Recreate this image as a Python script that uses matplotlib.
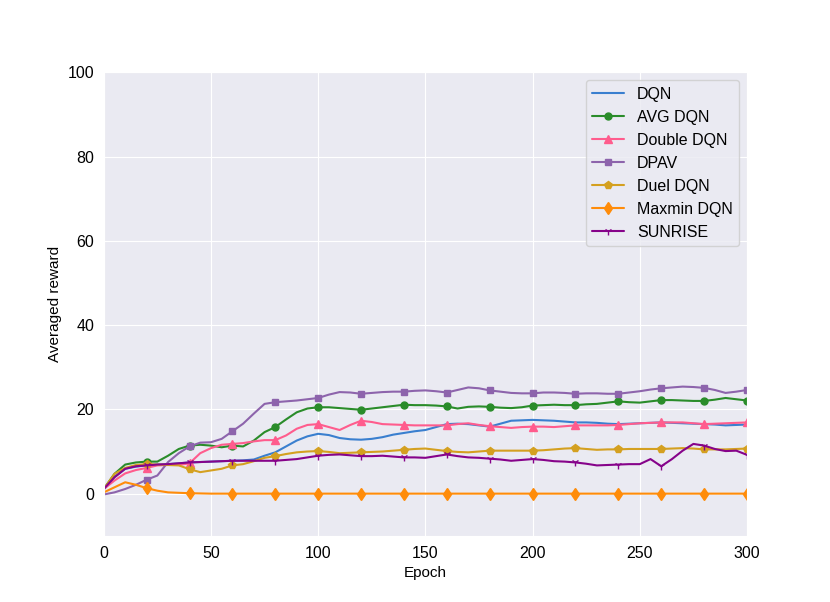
import numpy as np
import matplotlib
matplotlib.use("Agg")
import matplotlib.pyplot as plt
import seaborn as sns

sns.set_style("darkgrid")
plt.rcParams['font.family'] = ['Liberation Sans', 'DejaVu Sans']
plt.rcParams['text.color'] = 'black'
plt.rcParams['axes.labelcolor'] = 'black'
plt.rcParams['xtick.color'] = 'black'
plt.rcParams['ytick.color'] = 'black'

# epochs (every 5) and averaged rewards
epochs = np.arange(0, 301, 5)

dqn = [1.0, 3.9, 5.9, 6.4, 6.7, 6.9, 7.0, 7.2, 7.4, 7.5, 7.6, 7.7, 7.8, 7.9, 8.1, 9.0,
       9.8, 11.2, 12.6, 13.6, 14.2, 13.9, 13.2, 12.9, 12.8, 13.0, 13.4, 14.0, 14.4, 14.8,
       15.1, 15.8, 16.5, 16.6, 16.5, 16.2, 15.9, 16.6, 17.3, 17.4, 17.5, 17.4, 17.3, 17.1,
       16.9, 16.9, 16.8, 16.6, 16.5, 16.6, 16.7, 16.8, 16.9, 16.8, 16.7, 16.6, 16.5, 16.4,
       16.2, 16.3, 16.4]
avg_dqn = [1.1, 4.7, 6.9, 7.4, 7.6, 7.6, 9.0, 10.6, 11.4, 11.6, 11.4, 11.0, 11.4, 11.2, 12.6,
           14.6, 15.8, 17.6, 19.3, 20.2, 20.5, 20.5, 20.3, 20.1, 19.9, 20.2, 20.5, 20.8, 21.1,
           21.0, 21.0, 20.9, 20.7, 20.2, 20.6, 20.7, 20.6, 20.4, 20.3, 20.5, 20.9, 21.0, 21.1,
           21.0, 21.0, 21.2, 21.3, 21.6, 21.9, 21.7, 21.6, 21.9, 22.2, 22.2, 22.1, 22.0, 22.0,
           22.3, 22.7, 22.4, 22.1]
double_dqn = [1.1, 3.1, 4.8, 5.6, 6.1, 6.7, 6.8, 6.8, 7.2, 9.6, 10.8, 11.6, 11.8, 12.0, 12.4,
              12.7, 12.7, 13.8, 15.4, 16.3, 16.5, 15.8, 15.1, 16.3, 17.3, 17.0, 16.5, 16.4,
              16.3, 16.2, 16.2, 16.2, 16.2, 16.5, 16.7, 16.3, 16.0, 15.8, 15.6, 15.8, 15.9,
              15.9, 15.8, 16.0, 16.2, 16.2, 16.2, 16.2, 16.3, 16.5, 16.7, 16.8, 16.9, 16.9,
              16.9, 16.7, 16.5, 16.6, 16.7, 16.8, 16.9]
dpav = [-0.2, 0.3, 1.1, 2.1, 3.3, 4.3, 7.5, 9.6, 11.2, 12.1, 12.2, 13.0, 14.8, 16.6, 19.0,
        21.3, 21.7, 21.9, 22.1, 22.4, 22.7, 23.5, 24.1, 24.0, 23.7, 23.9, 24.1, 24.2, 24.2,
        24.4, 24.5, 24.3, 24.0, 24.6, 25.2, 25.0, 24.5, 24.2, 23.9, 23.8, 23.8, 24.0, 24.0,
        23.9, 23.7, 23.8, 23.8, 23.7, 23.7, 24.0, 24.3, 24.7, 25.0, 25.2, 25.4, 25.3, 25.1,
        24.6, 23.9, 24.2, 24.6]
duel_dqn = [1.1, 4.7, 6.1, 6.8, 7.0, 6.9, 6.8, 6.7, 5.8, 5.1, 5.5, 5.9, 6.7, 7.0, 7.7, 8.5,
            8.9, 9.4, 9.8, 10.0, 10.1, 9.9, 9.6, 9.7, 9.8, 9.9, 10.0, 10.2, 10.4, 10.6, 10.7,
            10.4, 10.1, 9.9, 9.8, 10.0, 10.2, 10.2, 10.2, 10.2, 10.2, 10.3, 10.5, 10.7, 10.8,
            10.6, 10.4, 10.5, 10.5, 10.6, 10.6, 10.6, 10.6, 10.7, 10.8, 10.7, 10.5, 10.5,
            10.5, 10.6, 10.7]
maxmin_dqn = [0.3, 1.5, 2.7, 2.1, 1.3, 0.7, 0.3, 0.2, 0.1, 0.05] + [0.0] * 51
sunrise = [1.1, 3.9, 5.9, 6.5, 6.7, 6.9, 7.0, 7.2, 7.4, 7.5, 7.6, 7.7, 7.8, 7.8, 7.8, 7.8,
           7.8, 8.0, 8.2, 8.6, 9.0, 9.2, 9.3, 9.1, 8.9, 8.9, 9.0, 8.8, 8.6, 8.6, 8.5, 8.9,
           9.3, 8.9, 8.6, 8.5, 8.3, 8.1, 7.8, 8.0, 8.2, 8.0, 7.7, 7.6, 7.4, 7.1, 6.7, 6.8,
           6.9, 7.0, 7.0, 8.2, 6.5, 8.2, 10.2, 11.8, 11.4, 10.6, 10.1, 10.2, 9.2]

series = [
    ("DQN", dqn, "#3a7fcf", None, 5),
    ("AVG DQN", avg_dqn, "#2a8c2a", "o", 5),
    ("Double DQN", double_dqn, "#ff5c8d", "^", 5.5),
    ("DPAV", dpav, "#8d64ac", "s", 5),
    ("Duel DQN", duel_dqn, "#d4a020", "p", 5.5),
    ("Maxmin DQN", maxmin_dqn, "#ff8c0a", "d", 6),
    ("SUNRISE", sunrise, "#86038a", "1", 6),
]

fig, ax = plt.subplots(figsize=(8.3, 6.02), dpi=100)
for name, vals, col, mk, ms in series:
    ax.plot(epochs, vals, color=col, marker=mk, markersize=ms, markevery=slice(4, None, 4),
            linewidth=1.5, label=name)

ax.set_xlim(0, 300)
ax.set_ylim(-10, 100)
ax.set_yticks([0, 20, 40, 60, 80, 100])
ax.set_xlabel("Epoch", fontsize=11)
ax.set_ylabel("Averaged reward", fontsize=11)
ax.tick_params(labelsize=11.5)
ax.legend(loc="upper right", fontsize=11.5)

fig.savefig("out.png", dpi=100)
